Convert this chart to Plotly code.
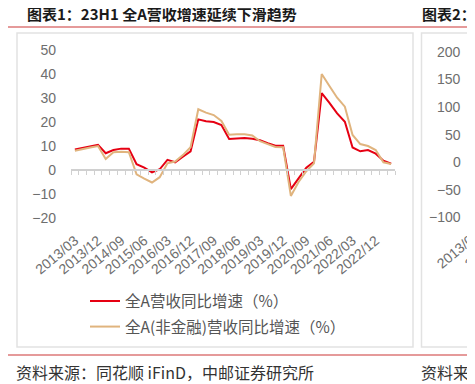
import plotly.graph_objects as go

# ---------------- data ----------------
quarters = [f"{y}/{m:02d}" for y in range(2013, 2024) for m in (3, 6, 9, 12)][:42]
all_a = [8.6, 9.2, 9.9, 10.5, 7.0, 8.3, 8.9, 8.9, 2.4, 1.0, -1.0, 0.3, 4.2, 3.2,
         5.5, 7.8, 21.1, 20.3, 20.0, 18.7, 12.9, 13.2, 13.3, 13.0, 12.4, 11.2,
         10.1, 10.1, -8.0, -3.5, 1.0, 3.4, 32.0, 28.0, 23.6, 20.1, 9.4, 7.8,
         8.3, 6.8, 3.9, 2.6]
non_fin = [8.0, 8.8, 9.4, 10.0, 4.6, 7.4, 7.6, 7.4, -1.8, -3.6, -5.2, -3.0, 2.8,
           3.5, 6.2, 9.5, 25.3, 23.9, 22.9, 20.4, 14.7, 14.9, 14.9, 14.4, 12.0,
           10.8, 9.6, 9.5, -10.8, -5.0, -0.5, 2.8, 40.0, 35.0, 30.1, 26.4, 14.6,
           10.8, 10.0, 8.3, 3.2, 2.5]
label_ticks = quarters[0:40:3]
y_ticks = [50, 40, 30, 20, 10, 0, -10, -20]
names = ["全A营收同比增速（%）", "全A(非金融)营收同比增速（%）"]
title1 = "图表1：23H1 全A营收增速延续下滑趋势"
title2 = "图表2："
source = "资料来源：同花顺 iFinD，中邮证券研究所"
source2 = "资料来源"
right_y_ticks = [200, 150, 100, 50, 0, -50, -100]
right_x_labels = ["2013/03", "2013/12"]

# ---------------- layout geometry ----------------
OFF = 8  # page body margin
W, H = 475 - OFF, 384 - OFF
PLOT_L, PLOT_R, PLOT_T, PLOT_B = 71, 395, 50, 218  # in screen pixels
ML, MR, MT, MB = PLOT_L - OFF, W - (PLOT_R - OFF), PLOT_T - OFF, H - (PLOT_B - OFF)
PW, PH = W - ML - MR, H - MT - MB


def fx(px):
    return (px - OFF - ML) / PW


def fy(py):
    return (H - MB - (py - OFF)) / PH


CJK = "Noto Sans CJK SC"
NUM = "Liberation Sans, Arial, sans-serif"
GRAY = "#6e6e6e"
RED = "#e60012"
TAN = "#e0b47e"

fig = go.Figure()
fig.add_trace(go.Scatter(x=quarters, y=all_a, mode="lines", name=names[0],
                         line=dict(color=RED, width=2), legend="legend"))
fig.add_trace(go.Scatter(x=quarters, y=non_fin, mode="lines", name=names[1],
                         line=dict(color=TAN, width=2), legend="legend2"))
# empty carrier trace so the zero-line tick axis (xaxis2) is drawn
fig.add_trace(go.Scatter(x=list(range(len(quarters) + 1)), y=[None] * (len(quarters) + 1),
                         xaxis="x2", yaxis="y", mode="lines", showlegend=False,
                         hoverinfo="skip"))

shapes = [
    dict(type="line", xref="paper", yref="paper", x0=fx(8), x1=fx(480), y0=fy(27), y1=fy(27),
         line=dict(color="#e59a9a", width=2)),
    dict(type="line", xref="paper", yref="paper", x0=fx(8), x1=fx(480), y0=fy(355), y1=fy(355),
         line=dict(color="#e59a9a", width=2)),
    dict(type="rect", xref="paper", yref="paper", x0=fx(17), x1=fx(413), y0=fy(33), y1=fy(347),
         line=dict(color="#e2e2e2", width=1.5)),
    dict(type="rect", xref="paper", yref="paper", x0=fx(421.5), x1=fx(490), y0=fy(33), y1=fy(347),
         line=dict(color="#e2e2e2", width=1.5)),
]

ann = [
    dict(text=f"<b>{title1}</b>", x=fx(25), y=fy(13.5), xref="paper", yref="paper",
         xanchor="left", yanchor="middle", align="left", showarrow=False,
         font=dict(family=CJK, size=15, color="#1a1a1a")),
    dict(text=f"<b>{title2}</b>", x=fx(420), y=fy(13.5), xref="paper", yref="paper",
         xanchor="left", yanchor="middle", align="left", showarrow=False,
         font=dict(family=CJK, size=15, color="#1a1a1a")),
    dict(text=source, x=fx(14), y=fy(371.5), xref="paper", yref="paper",
         xanchor="left", yanchor="middle", align="left", showarrow=False,
         font=dict(family=CJK, size=16, color="#333333")),
    dict(text=source2, x=fx(419), y=fy(371.5), xref="paper", yref="paper",
         xanchor="left", yanchor="middle", align="left", showarrow=False,
         font=dict(family=CJK, size=16, color="#333333")),
]
for v in right_y_ticks:
    ann.append(dict(text=f"{v}".replace("-", "\u2212"), x=fx(463), y=v, xref="paper", yref="y2",
                    xanchor="right", yanchor="middle", align="right", showarrow=False,
                    font=dict(family=NUM, size=14, color=GRAY)))
for k, t in enumerate(right_x_labels):
    ann.append(dict(text=t, x=fx(486 + 28 * k), y=fy(224), xref="paper", yref="paper",
                    xanchor="right", yanchor="top", textangle=-40, showarrow=False,
                    font=dict(family=NUM, size=14, color=GRAY)))

fig.update_layout(
    width=W, height=H,
    margin=dict(l=ML, r=MR, t=MT, b=MB, pad=0),
    paper_bgcolor="white", plot_bgcolor="white",
    showlegend=True,
    xaxis=dict(type="category", categoryorder="array", categoryarray=quarters,
               range=[-0.5, 41.5], tickmode="array", tickvals=label_ticks, ticktext=label_ticks,
               tickangle=-40, ticks="", showline=False, showgrid=False, zeroline=False,
               ticklabelstandoff=11,
               tickfont=dict(family=NUM, size=14, color=GRAY)),
    xaxis2=dict(overlaying="x", anchor="free", position=20 / 70, range=[0, 42],
                tickmode="linear", tick0=0, dtick=1, ticks="outside", ticklen=4,
                tickcolor="#d0d0d0", tickwidth=1, showline=True, linecolor="#d0d0d0",
                linewidth=1.5, showticklabels=False, showgrid=False, zeroline=False),
    yaxis=dict(range=[-20, 50], tickmode="array", tickvals=y_ticks, showgrid=False,
               zeroline=False, showline=False, ticks="", ticklabelstandoff=14,
               tickfont=dict(family=NUM, size=14, color=GRAY)),
    yaxis2=dict(overlaying="y", range=[-101, 203], visible=False),
    legend=dict(x=fx(85), y=fy(301.5), xanchor="left", yanchor="middle",
                bgcolor="rgba(0,0,0,0)", font=dict(family=CJK, size=15.5, color="#555555")),
    legend2=dict(x=fx(85), y=fy(327), xanchor="left", yanchor="middle",
                 bgcolor="rgba(0,0,0,0)", font=dict(family=CJK, size=15.5, color="#555555")),
    shapes=shapes,
    annotations=ann,
)

fig.write_html("out.html")
